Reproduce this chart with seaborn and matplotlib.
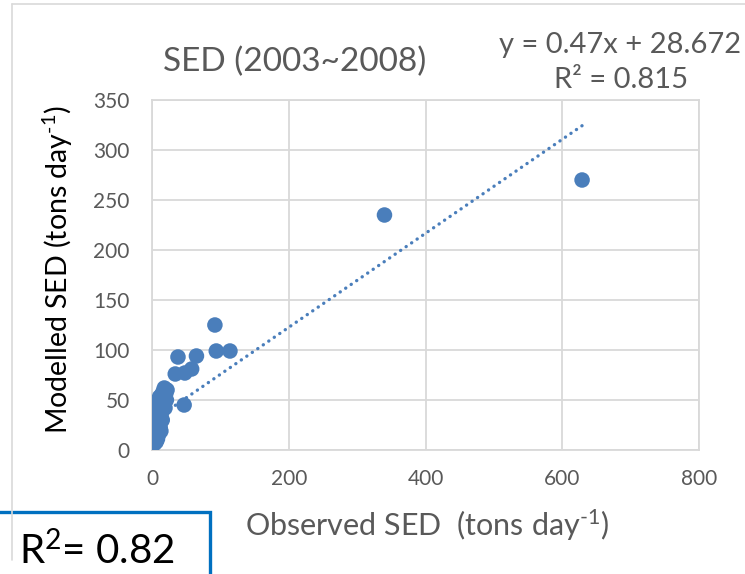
import matplotlib
matplotlib.use("Agg")
import matplotlib.pyplot as plt
from matplotlib.patches import Rectangle
from matplotlib.lines import Line2D
import numpy as np
import pandas as pd
import seaborn as sns

# Observed vs modelled sediment load (tons/day), 2003-2008
observed = [629, 340, 92, 94, 114, 38, 65, 34, 48, 58, 47,
            2, 3, 4, 5, 6, 4, 7, 5, 8, 6, 9, 7, 10, 8, 11, 9, 12, 10,
            13, 11, 14, 12, 15, 16, 17, 14, 18, 16, 20, 8, 6, 10, 5,
            12, 9, 7, 13, 15, 11, 22, 18, 3, 4, 19, 21]
modelled = [270, 235, 125, 99, 99, 93, 94, 76, 77, 81, 45,
            10, 6, 9, 12, 8, 15, 18, 21, 14, 25, 20, 28, 24, 32, 30, 36, 27, 40,
            34, 44, 38, 48, 45, 52, 50, 55, 47, 58, 56, 11, 33, 16, 42,
            22, 47, 38, 19, 30, 53, 60, 62, 30, 36, 42, 50]

slope = 0.47
intercept = 28.672
r2_fit = 0.815
r2_box = 0.82

x_ticks = [0, 200, 400, 600, 800]
y_ticks = [0, 50, 100, 150, 200, 250, 300, 350]

BLUE = "#4A7EBB"
GRID = "#D9D9D9"
GREY_TXT = "#595959"

sns.set_theme(style="white")
plt.rcParams["font.family"] = ["Lato", "DejaVu Sans"]
plt.rcParams["mathtext.fontset"] = "custom"
plt.rcParams["mathtext.rm"] = "Lato"
plt.rcParams["mathtext.it"] = "Lato:italic"
plt.rcParams["mathtext.bf"] = "Lato:bold"

W, H = 745, 574
fig = plt.figure(figsize=(W / 100, H / 100), dpi=100)
fig.patch.set_facecolor("white")


def fx(px):
    return px / W


def fy(py):
    return 1 - py / H


# outer chart frame
fig.add_artist(Line2D([fx(11.5), fx(11.5)], [fy(4), fy(560)], color=GRID, lw=1.2))
fig.add_artist(Line2D([fx(11.5), fx(760)], [fy(4), fy(4)], color=GRID, lw=1.2))

ax = fig.add_axes([fx(152), fy(450), (699 - 152) / W, (450 - 100) / H])

df = pd.DataFrame({"Observed": observed, "Modelled": modelled})
sns.scatterplot(data=df, x="Observed", y="Modelled", ax=ax, s=125,
                color=BLUE, edgecolor="none", linewidth=0, zorder=3)

# linear trendline across the observed range
xs = np.array([min(observed), max(observed)], dtype=float)
ax.plot(xs, slope * xs + intercept, color=BLUE, lw=2.4,
        linestyle=(0, (0.05, 1.95)), dash_capstyle="round", zorder=2)

ax.set_xlim(0, 800)
ax.set_ylim(0, 350)
ax.set_xticks(x_ticks)
ax.set_yticks(y_ticks)
ax.set_xticklabels([str(v) for v in x_ticks])
ax.set_yticklabels([str(v) for v in y_ticks])
ax.grid(True, color=GRID, lw=1.3)
ax.set_axisbelow(True)
for sp in ax.spines.values():
    sp.set_color(GRID)
    sp.set_linewidth(1.3)
ax.tick_params(axis="both", length=0, labelsize=15, labelcolor=GREY_TXT)
ax.tick_params(axis="x", pad=14)
ax.tick_params(axis="y", pad=16)
ax.set_xlabel("")
ax.set_ylabel("")

fig.text(fx(295), fy(62), "SED (2003~2008)", ha="center", va="center",
         fontsize=24, color=GREY_TXT)
fig.text(fx(620), fy(45), f"y = {slope}x + {intercept}", ha="center", va="center",
         fontsize=21, color=GREY_TXT)
fig.text(fx(621), fy(80), f"R² = {r2_fit}", ha="center", va="center",
         fontsize=21, color=GREY_TXT)

fig.text(fx(427), fy(525), r"Observed SED  (tons day$^{\text{-1}}$)",
         ha="center", va="center", fontsize=22, color=GREY_TXT)
fig.text(fx(58), fy(270), r"Modelled SED (tons day$^{\text{-1}}$)",
         ha="center", va="center", rotation=90, fontsize=20.5, color="black")

# highlighted R² box
fig.add_artist(Rectangle((fx(-10), fy(600)), fx(220), (600 - 512) / H,
                         facecolor="white", edgecolor="#0070C0", lw=2.4,
                         transform=fig.transFigure, clip_on=False))
fig.text(fx(97), fy(551), r"R$^{\mathregular{2}}$= " + f"{r2_box}", ha="center",
         va="center", fontsize=29, color="black")

fig.savefig("out.png", dpi=100, facecolor="white")
